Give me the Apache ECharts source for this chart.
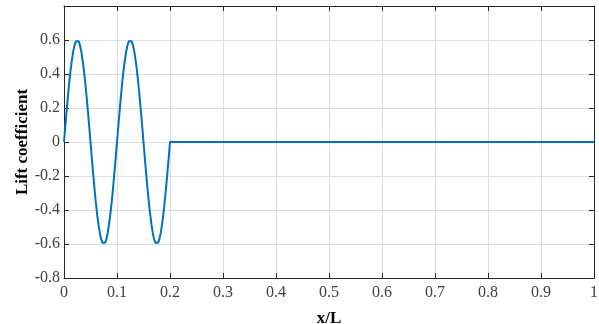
<!DOCTYPE html>
<html><head><meta charset="utf-8">
<script src="https://cdn.jsdelivr.net/npm/echarts@6/dist/echarts.min.js"></script>
<style>html,body{margin:0;padding:0;background:#fff}#c{width:599px;height:324px}</style>
</head><body><div id="c"></div>
<script>
const xValues = [0,0.0025,0.005,0.0075,0.01,0.0125,0.015,0.0175,0.02,0.0225,0.025,0.0275,0.03,0.0325,0.035,0.0375,0.04,0.0425,0.045,0.0475,0.05,
0.0525,0.055,0.0575,0.06,0.0625,0.065,0.0675,0.07,0.0725,0.075,0.0775,0.08,0.0825,0.085,0.0875,0.09,0.0925,0.095,0.0975,0.1,
0.1025,0.105,0.1075,0.11,0.1125,0.115,0.1175,0.12,0.1225,0.125,0.1275,0.13,0.1325,0.135,0.1375,0.14,0.1425,0.145,0.1475,0.15,
0.1525,0.155,0.1575,0.16,0.1625,0.165,0.1675,0.17,0.1725,0.175,0.1775,0.18,0.1825,0.185,0.1875,0.19,0.1925,0.195,0.1975,0.2,1];
const liftValues = [0,0.094,0.185,0.272,0.353,0.424,0.485,0.535,0.571,0.593,0.6,0.593,0.571,0.535,0.485,0.424,0.353,0.272,0.185,0.094,0,
-0.094,-0.185,-0.272,-0.353,-0.424,-0.485,-0.535,-0.571,-0.593,-0.6,-0.593,-0.571,-0.535,-0.485,-0.424,-0.353,-0.272,-0.185,-0.094,0,
0.094,0.185,0.272,0.353,0.424,0.485,0.535,0.571,0.593,0.6,0.593,0.571,0.535,0.485,0.424,0.353,0.272,0.185,0.094,0,
-0.094,-0.185,-0.272,-0.353,-0.424,-0.485,-0.535,-0.571,-0.593,-0.6,-0.593,-0.571,-0.535,-0.485,-0.424,-0.353,-0.272,-0.185,-0.094,0,0];
const xTicks = [0,0.1,0.2,0.3,0.4,0.5,0.6,0.7,0.8,0.9,1];
const yTicks = [-0.8,-0.6,-0.4,-0.2,0,0.2,0.4,0.6];

const font = '"Liberation Serif", "Times New Roman", serif';
const axisCol = '#262626';
const labelCol = '#404040';
const chart = echarts.init(document.getElementById('c'), null, {renderer:'canvas'});
const base = {
  axisLine:{show:true,onZero:false,lineStyle:{color:axisCol,width:1}},
  axisTick:{show:true,inside:true,length:5,lineStyle:{color:axisCol}}
};
chart.setOption({
  animation:false,
  grid:{left:64,right:5,top:6,bottom:46,containLabel:false,outerBoundsMode:'none'},
  xAxis:[
    Object.assign({type:'value',min:0,max:1,interval:0.1,position:'bottom',
      name:'x/L',nameLocation:'middle',nameGap:32,nameMoveOverlap:false,
      nameTextStyle:{fontFamily:font,fontSize:17,fontWeight:'bold',color:'#000'},
      axisLabel:{fontFamily:font,fontSize:16,color:labelCol,margin:7,
        formatter:v=>{const r=+v.toFixed(1);return xTicks.includes(r)?String(r):'';}},
      splitLine:{show:true,lineStyle:{color:'#dedede',width:1}}},base),
    Object.assign({type:'value',min:0,max:1,interval:0.1,position:'top',
      axisLabel:{show:false},splitLine:{show:false}},base)
  ],
  yAxis:[
    Object.assign({type:'value',min:-0.8,max:0.8,interval:0.2,position:'left',
      name:'Lift coefficient',nameLocation:'middle',nameGap:33,nameMoveOverlap:false,
      nameTextStyle:{fontFamily:font,fontSize:17,fontWeight:'bold',color:'#000'},
      axisLabel:{fontFamily:font,fontSize:16,color:labelCol,margin:4,
        formatter:v=>{const r=+v.toFixed(1);return yTicks.includes(r)?String(r):'';}},
      splitLine:{show:true,lineStyle:{color:'#dedede',width:1}}},base),
    Object.assign({type:'value',min:-0.8,max:0.8,interval:0.2,position:'right',
      axisLabel:{show:false},splitLine:{show:false}},base)
  ],
  series:[{
    type:'line',xAxisIndex:0,yAxisIndex:0,
    data:xValues.map((x,i)=>[x,liftValues[i]]),
    showSymbol:false,smooth:false,
    lineStyle:{color:'#0072BD',width:2}
  }]
});
</script></body></html>
